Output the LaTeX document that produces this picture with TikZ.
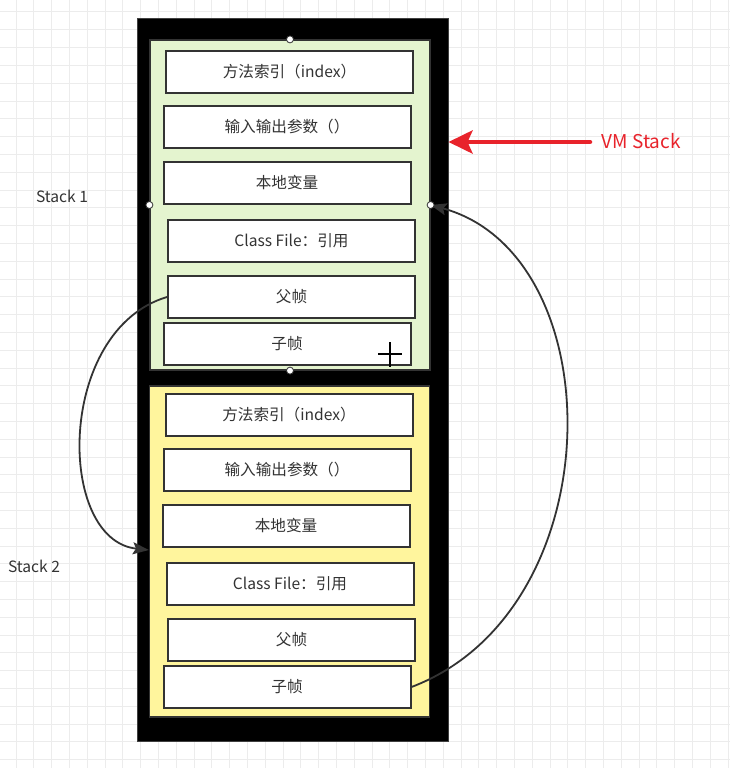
\documentclass[tikz,border=0pt]{standalone}
\usepackage{fontspec}
\setmainfont{Noto Sans CJK SC}
\usepackage{xcolor}
\usepackage{tikz}
\usetikzlibrary{arrows.meta, positioning, calc}

\definecolor{textgray}{HTML}{333333}
\definecolor{gridgray}{HTML}{ECECEC}
\definecolor{framegreen}{HTML}{E4F4CF}
\definecolor{frameyellow}{HTML}{FFF59D}
\definecolor{vmred}{HTML}{E8232B}

\begin{document}
\begin{tikzpicture}[x=1pt, y=-1pt, >=Stealth, thick,
    cell/.style={draw=textgray, line width=2pt, fill=white, minimum width=247pt,
      minimum height=42pt, inner sep=0pt, text=textgray, font=\fontsize{15.6}{18}\selectfont},
    frame/.style={draw=textgray, line width=1.2pt, minimum width=280pt, inner sep=0pt},
    sidelabel/.style={text=textgray, font=\fontsize{15.6}{18}\selectfont},
    handle/.style={draw=textgray, fill=white, line width=0.8pt},
    link/.style={draw=textgray, line width=1.8pt, -{Stealth[length=16pt, width=12pt, inset=3pt]}}]
    \useasboundingbox (0,0) rectangle (730,768);
    \fill[white] (0,0) rectangle (730,768);
    % grid background
    \foreach \gx in {16,33.8,...,730} \draw[gridgray, line width=1pt] (\gx,0) -- (\gx,768);
    \foreach \gy in {12,29.8,...,768} \draw[gridgray, line width=1pt] (0,\gy) -- (730,\gy);

    % VM stack (black outer frame)
    \node[draw=black!75, fill=black, line width=1pt, minimum width=311pt, minimum height=722pt, inner sep=0pt]
      (vmstack) at (292.5,380) {};

    % Stack 1 frame
    \node[frame, fill=framegreen, minimum height=330pt] (stackA) at (290,205) {};
    \node[cell] (a1) at (289.5,72) {方法索引（index）};
    \node[cell] (a2) at (287,127) {输入输出参数（）};
    \node[cell] (a3) at (287,183) {本地变量};
    \node[cell] (a4) at (291.5,241) {Class File：引用};
    \node[cell] (a5) at (291.5,297) {父帧};
    \node[cell] (a6) at (287,344) {子帧};

    % Stack 2 frame
    \node[frame, fill=frameyellow, minimum height=331pt] (stackB) at (289.5,551.5) {};
    \node[cell] (b1) at (289,414.5) {方法索引（index）};
    \node[cell] (b2) at (287,470) {输入输出参数（）};
    \node[cell] (b3) at (286,526) {本地变量};
    \node[cell] (b4) at (290,584) {Class File：引用};
    \node[cell] (b5) at (291.5,640) {父帧};
    \node[cell] (b6) at (287,687) {子帧};

    % labels
    \node[sidelabel] (labA) at (62,196) {Stack 1};
    \node[sidelabel] (labB) at (34,566) {Stack 2};
    \node[text=vmred, font=\fontsize{19}{22}\selectfont, anchor=west] (vmlabel) at (598,141) {VM Stack};

    % red arrow to the VM stack
    \coordinate (vmstart) at (590,142);
    \draw[vmred, line width=4.5pt, line cap=round, -{Stealth[length=24pt, width=23pt, inset=5pt]}]
      (vmstart) -- (vmstart -| vmstack.east);

    % parent / child frame links
    \draw[link] (a5.west) .. controls (56,330) and (56,540) .. ($(stackB.west)+(0,-1.5)$);
    \draw[link] (b6.east) .. controls (614,610) and (614,255) .. (stackA.east);

    % selection handles and cursor
    \foreach \hp in {north, west, east, south}
      \draw[handle] (stackA.\hp) circle (3.5pt);
    \draw[black, line width=2pt] (378,354) -- (402,354) (390,342) -- (390,367);
\end{tikzpicture}
\end{document}
